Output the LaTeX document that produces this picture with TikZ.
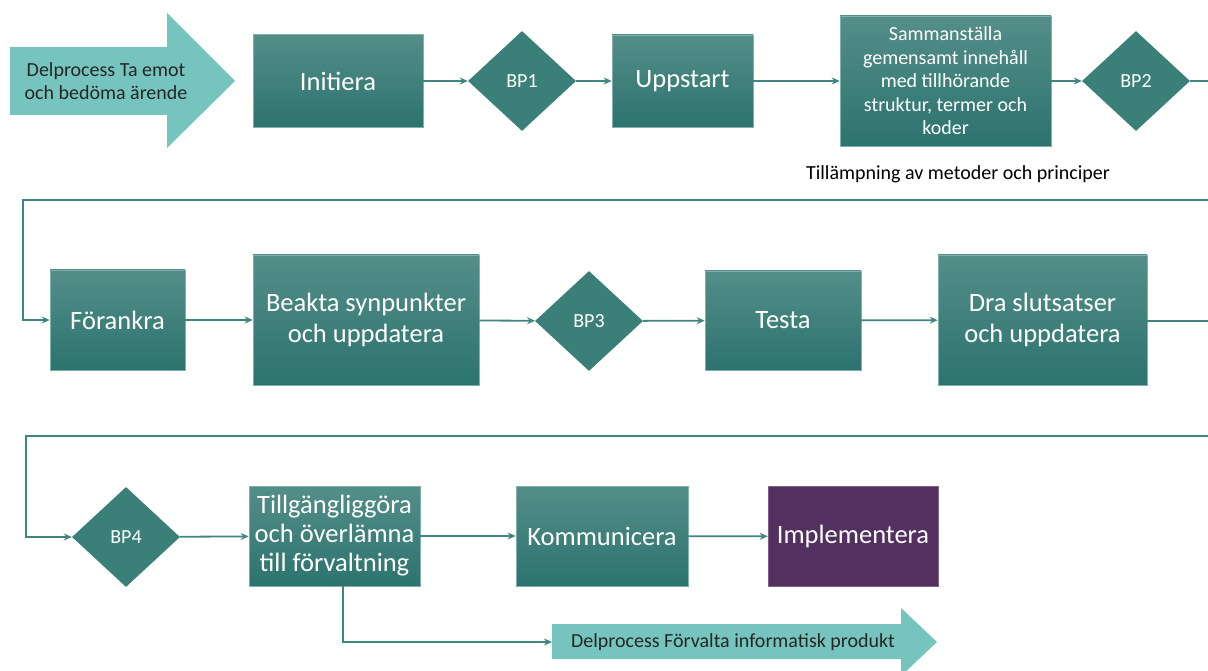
\documentclass[tikz,border=0pt]{standalone}
\usepackage{fontspec}
\setmainfont{Carlito}
\usetikzlibrary{shapes.geometric,arrows.meta}

\definecolor{boxtop}{HTML}{548E89}
\definecolor{boxbot}{HTML}{2C736E}
\definecolor{boxedge}{HTML}{7FB0AB}
\definecolor{bpfill}{HTML}{3B7F79}
\definecolor{linecol}{HTML}{3F8580}
\definecolor{lightarrow}{HTML}{76C4BE}
\definecolor{implfill}{HTML}{53305F}
\definecolor{impledge}{HTML}{7E6189}
\definecolor{darktext}{HTML}{262626}

\tikzset{
  proc/.style={draw=boxedge, line width=0.6pt, top color=boxtop, bottom color=boxbot,
    text=white, font=\fontsize{26.5}{31}\selectfont, align=center, inner sep=0pt},
  bp/.style={diamond, fill=bpfill, text=white, font=\fontsize{20}{24}\selectfont,
    inner sep=0pt, minimum width=108pt, minimum height=100pt},
  flow/.style={draw=linecol, line width=1.8pt, -{Stealth[length=8pt,width=7pt]}},
  plainline/.style={draw=linecol, line width=1.8pt},
  small/.style={font=\fontsize{20}{23.5}\selectfont}
}

\begin{document}
\begin{tikzpicture}[x=1pt,y=-1pt]
\useasboundingbox (0,0) rectangle (1208,671);

% ingoing and outgoing sub processes
\fill[lightarrow] (10,47) -- (167,47) -- (167,13) -- (235,81) -- (167,148) -- (167,115) -- (10,115) -- cycle;
\node[small, text=darktext, align=center] (delin) at (106,81) {Delprocess Ta emot\\och bedöma ärende};
\fill[lightarrow] (552,624) -- (901,624) -- (901,608) -- (937,642) -- (901,676) -- (901,659) -- (552,659) -- cycle;
\node[small, text=darktext] (delout) at (733,642) {Delprocess Förvalta informatisk produkt};
\coordinate (outtail) at (552,642);

% row 1
\node[proc, minimum width=170pt, minimum height=93pt] (init) at (338,81) {Initiera};
\node[bp] (bpa) at (522,81) {BP1};
\node[proc, minimum width=141pt, minimum height=92pt] (upp) at (682.5,81) {Uppstart};
\node[proc, small, minimum width=211pt, minimum height=130pt] (samman) at (945.5,81)
  {Sammanställa\\gemensamt innehåll\\med tillhörande\\struktur, termer och\\koder};
\node[bp] (bpb) at (1136,81) {BP2};
\node[small, text=black] (metod) at (958,174) {Tillämpning av metoder och principer};

% row 2
\node[proc, minimum width=135pt, minimum height=100pt] (forank) at (117.5,320) {Förankra};
\node[proc, minimum width=226pt, minimum height=130pt] (beakta) at (366,320) {Beakta synpunkter\\och uppdatera};
\node[bp] (bpc) at (589,321) {BP3};
\node[proc, minimum width=156pt, minimum height=99pt] (testa) at (783,320.5) {Testa};
\node[proc, minimum width=209pt, minimum height=130pt] (dra) at (1042.5,320) {Dra slutsatser\\och uppdatera};

% row 3
\node[bp] (bpd) at (126,537) {BP4};
\node[proc, font=\fontsize{26.5}{29}\selectfont, minimum width=171pt, minimum height=100pt] (tillg) at (334.5,536) {Tillgängliggöra\\och överlämna\\till förvaltning};
\node[proc, minimum width=172pt, minimum height=100pt] (komm) at (602,536) {Kommunicera};
\node[proc, draw=impledge, top color=implfill, bottom color=implfill, minimum width=170pt, minimum height=100pt] (impl) at (853,536.5) {Implementera};

% edge points for the line breaks
\coordinate (rowaout) at (1208,81);
\coordinate (rowaback) at (1208,200);
\coordinate (rowbout) at (1208,321);
\coordinate (rowbback) at (1208,436);

% connectors
\draw[flow] (init) -- (bpa);
\draw[flow] (bpa) -- (upp);
\draw[flow] (upp) -- (samman);
\draw[flow] (samman) -- (bpb);
\draw[plainline] (bpb) -- (rowaout);
\draw[flow] (rowaback) -| (23,320) -- (forank);
\draw[flow] (forank) -- (beakta);
\draw[flow] (beakta) -- (bpc);
\draw[flow] (bpc) -- (testa);
\draw[flow] (testa) -- (dra);
\draw[plainline] (dra.east |- rowbout) -- (rowbout);
\draw[flow] (rowbback) -| (26,537) -- (bpd);
\draw[flow] (bpd) -- (tillg);
\draw[flow] (tillg) -- (komm);
\draw[flow] (komm) -- (impl);
\draw[flow] ([xshift=8.5pt]tillg.south) |- (outtail);
\end{tikzpicture}
\end{document}
